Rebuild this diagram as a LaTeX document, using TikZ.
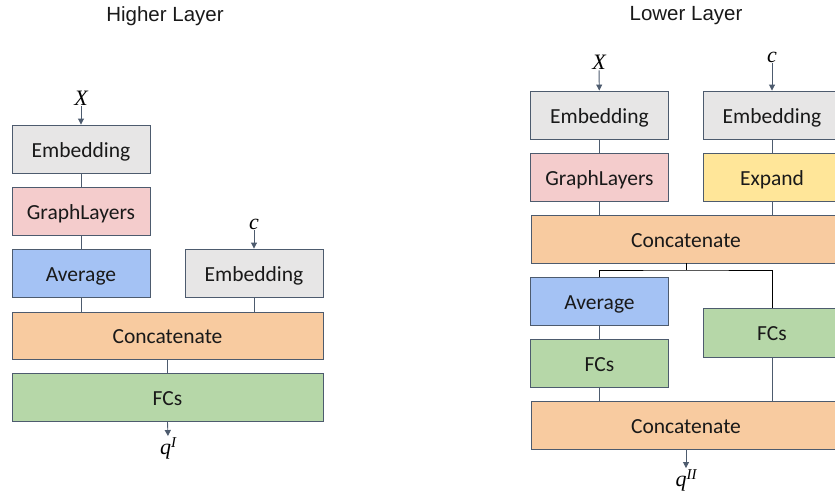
\documentclass[tikz,border=0pt]{standalone}
\usepackage{fontspec}
\setmainfont{Carlito}
\newfontfamily\titlefont{Liberation Sans}
\newfontfamily\labfont{Liberation Serif}
\usetikzlibrary{arrows.meta}
\definecolor{edgec}{HTML}{4D5B6E}
\definecolor{embc}{HTML}{E7E6E6}
\definecolor{graphc}{HTML}{F4CCCC}
\definecolor{avgc}{HTML}{A4C2F4}
\definecolor{catc}{HTML}{F8CBA0}
\definecolor{fcc}{HTML}{B6D7A8}
\definecolor{expc}{HTML}{FFE699}
\newcommand{\supl}[1]{\raisebox{7pt}{\fontsize{15}{16}\selectfont #1}}
\tikzset{
  blk/.style={draw=edgec, line width=0.9pt, rectangle, inner sep=0pt,
    text height=16.6pt, text depth=0pt,
    font=\fontsize{21.5}{24}\selectfont, text=black!90},
  w1/.style={minimum width=138pt},
  w2/.style={minimum width=310pt},
  h48/.style={minimum height=48pt},
  conn/.style={draw=edgec, line width=0.9pt},
  arr/.style={conn, -{Triangle[length=6pt,width=6pt]}},
  brline/.style={draw=black, line width=0.9pt},
  mlab/.style={inner sep=1pt, font=\labfont\itshape\fontsize{22}{24}\selectfont},
  ttl/.style={font=\titlefont\fontsize{20.5}{23}\selectfont, text=black!90}
}
\begin{document}
\begin{tikzpicture}[x=1pt,y=-1pt]
\useasboundingbox (0,0) rectangle (835,495);
% titles
\node[ttl] (t1) at (165,16) {Higher Layer};
\node[ttl] (t2) at (686,16) {Lower Layer};
% ---- Higher layer ----
\node[blk,w1,h48,fill=embc] (emb1) at (81,149) {Embedding};
\node[blk,w1,h48,fill=graphc] (gl1) at (81,211.5) {GraphLayers};
\node[blk,w1,h48,fill=avgc] (avg1) at (81,273) {Average};
\node[blk,w1,h48,fill=embc] (emb2) at (254,273) {Embedding};
\node[blk,minimum width=311pt,minimum height=47pt,fill=catc] (cat1) at (167.5,335.5) {Concatenate};
\node[blk,minimum width=311pt,h48,fill=fcc] (fc1) at (167.5,397.5) {FCs};
\node[mlab] (x1) at (81,98) {X};
\node[mlab] (c1) at (254,224) {c};
\node[mlab] (q1) at (168,448) {q\supl{I}};
\draw[arr] (x1) -- (emb1);
\draw[arr] (c1) -- (emb2);
\draw[conn] (emb1) -- (gl1);
\draw[conn] (gl1) -- (avg1);
\draw[conn] (avg1.south) -- (avg1.south |- cat1.north);
\draw[conn] (emb2.south) -- (emb2.south |- cat1.north);
\draw[conn] (cat1.south -| fc1.north) -- (fc1.north);
\draw[arr] (fc1.south) -- (q1.north);
% ---- Lower layer ----
\node[blk,w1,h48,fill=embc] (emb3) at (599.5,115) {Embedding};
\node[blk,w1,h48,fill=embc] (emb4) at (772,115) {Embedding};
\node[blk,w1,h48,fill=graphc] (gl2) at (599.5,177) {GraphLayers};
\node[blk,w1,h48,fill=expc] (exp1) at (772,177) {Expand};
\node[blk,w2,h48,fill=catc] (cat2) at (686,239) {Concatenate};
\node[blk,w1,h48,fill=avgc] (avg2) at (599.5,301) {Average};
\node[blk,w1,h48,fill=fcc] (fc2) at (599.5,363) {FCs};
\node[blk,w1,minimum height=49pt,fill=fcc] (fc3) at (772,332.5) {FCs};
\node[blk,w2,h48,fill=catc] (cat3) at (686,425) {Concatenate};
\node[mlab] (x2) at (599,62) {X};
\node[mlab] (c2) at (772,57) {c};
\node[mlab] (q2) at (686,480) {q\supl{II}};
\draw[arr] (x2) -- (emb3);
\draw[arr] (c2) -- (emb4);
\draw[conn] (emb3) -- (gl2);
\draw[conn] (emb4) -- (exp1);
\draw[conn] (gl2.south) -- (gl2.south |- cat2.north);
\draw[conn] (exp1.south) -- (exp1.south |- cat2.north);
\coordinate (br) at (686,270);
\draw[brline] (cat2.south) -- (br);
\draw[brline] (avg2.north) |- (br) -| (fc3.north);
\draw[conn] (avg2) -- (fc2);
\draw[conn] (fc2.south) -- (fc2.south |- cat3.north);
\draw[conn] (fc3.south) -- (fc3.south |- cat3.north);
\draw[arr] (cat3.south) -- (q2.north);
\end{tikzpicture}
\end{document}
